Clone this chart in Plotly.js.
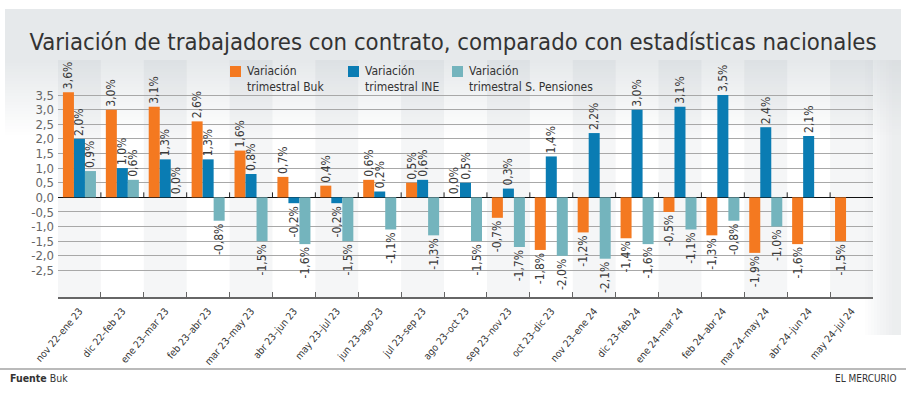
<!DOCTYPE html>
<html><head><meta charset="utf-8">
<script src="https://cdn.plot.ly/plotly-3.0.1.min.js"></script>
<style>html,body{margin:0;padding:0;background:#fff}#chart{width:906px;height:395px}</style>
</head><body><div id="chart"></div>
<script>
const categories = ["nov 22–ene 23","dic 22–feb 23","ene 23–mar 23","feb 23–abr 23","mar 23–may 23","abr 23–jun 23","may 23–jul 23","jun 23–ago 23","jul 23–sep 23","ago 23–oct 23","sep 23–nov 23","oct 23–dic 23","nov 23–ene 24","dic 23–feb 24","ene 24–mar 24","feb 24–abr 24","mar 24–may 24","abr 24–jun 24","may 24–jul 24"];
const buk = [3.6,3.0,3.1,2.6,1.6,0.7,0.4,0.6,0.5,0.0,-0.7,-1.8,-1.2,-1.4,-0.5,-1.3,-1.9,-1.6,-1.5];
const ine = [2.0,1.0,1.3,1.3,0.8,-0.2,-0.2,0.2,0.6,0.5,0.3,1.4,2.2,3.0,3.1,3.5,2.4,2.1,null];
const pensiones = [0.9,0.6,0.0,-0.8,-1.5,-1.6,-1.5,-1.1,-1.3,-1.5,-1.7,-2.0,-2.1,-1.6,-1.1,-0.8,-1.0,null,null];
const seriesNames = ["Variación<br>trimestral Buk","Variación<br>trimestral INE","Variación<br>trimestral S. Pensiones"];
const yTickVals = [-2.5,-2.0,-1.5,-1.0,-0.5,0.0,0.5,1.0,1.5,2.0,2.5,3.0,3.5];
const yTickText = ["-2,5","-2,0","-1,5","-1,0","-0,5","0,0","0,5","1,0","1,5","2,0","2,5","3,0","3,5"];
const titleText = "Variación de trabajadores con contrato, comparado con estadísticas nacionales";

const colors = ["#f47920","#0a7cb3","#74b4bd"];
const F = "'DejaVu Sans Condensed','Liberation Sans Narrow','Roboto Condensed',Roboto,sans-serif";
const W = 906, H = 395, L = 58, R = 873, T = 60, B = 297;
const px = x => (x - L) / (R - L);
const py = y => (B - y) / (B - T);
const fmt = v => v === null ? "" : v.toFixed(1).replace(".", ",") + "%";

const traces = [buk, ine, pensiones].map((vals, k) => ({
  type: "bar", x: categories, y: vals, name: seriesNames[k],
  marker: {color: colors[k], line: {width: 0}},
  text: vals.map(fmt), textposition: "outside", textangle: -90,
  constraintext: "none", cliponaxis: false,
  textfont: {family: F, size: 12, color: "#3a3a3a"},
  hoverinfo: "skip", showlegend: false
}));

const shapes = [];
function mix(a, b, t) {
  const pa = [1,3,5].map(i => parseInt(a.substr(i,2),16));
  const pb = [1,3,5].map(i => parseInt(b.substr(i,2),16));
  return "rgb(" + pa.map((v,i)=>Math.round(v+(pb[i]-v)*t)).join(",") + ")";
}
for (let y = 9; y < 140; y += 3) {
  const t = Math.min(1, Math.max(0, (y - 60) / 75));
  shapes.push({type:"rect", xref:"paper", yref:"paper", layer:"below",
    x0: px(5), x1: px(901), y0: py(y+3), y1: py(y),
    fillcolor: mix("#e6e9eb","#ffffff",t), line:{width:0}});
}
for (let x = 862; x < 901; x += 3) {
  const t = Math.min(1, Math.max(0, (x - 862) / 30));
  shapes.push({type:"rect", xref:"paper", yref:"paper", layer:"below",
    x0: px(x), x1: px(x+3), y0: py(335), y1: py(60),
    fillcolor: "rgba(200,205,210," + (0.35 * t).toFixed(3) + ")", line:{width:0}});
}
categories.forEach((c, i) => {
  if (i % 2 === 0) shapes.push({type:"rect", xref:"x", yref:"paper", layer:"below",
    x0: i - 0.5, x1: i + 0.5, y0: 0, y1: 1, fillcolor: "rgba(120,130,140,0.07)", line:{width:0}});
});
categories.forEach((c, i) => {
  if (i > 0) shapes.push({type:"line", xref:"x", yref:"y", ysizemode:"pixel", yanchor:0,
    x0: i - 0.5, x1: i - 0.5, y0: 0, y1: 5, line:{color:"#222", width:1}});
});
const legX = [230, 348, 452];
legX.forEach((x, k) => shapes.push({type:"rect", xref:"paper", yref:"paper",
  x0: px(x), x1: px(x+11), y0: py(77), y1: py(66), fillcolor: colors[k], line:{width:0}}));
shapes.push({type:"line", xref:"paper", yref:"paper", x0: px(0), x1: px(906), y0: py(369), y1: py(369),
  line:{color:"#777", width:1.2}});

const annotations = legX.map((x, k) => ({
  xref:"paper", yref:"paper", x: px(x+15), y: py(62), xanchor:"left", yanchor:"top",
  text: seriesNames[k], showarrow:false, align:"left",
  font:{family:F, size:12, color:"#333"}
}));
annotations.push({xref:"paper", yref:"paper", x: px(8), y: py(378), xanchor:"left", yanchor:"middle",
  text:"<b>Fuente</b> Buk", showarrow:false, font:{family:F, size:10.5, color:"#333"}});
annotations.push({xref:"paper", yref:"paper", x: px(899), y: py(378), xanchor:"right", yanchor:"middle",
  text:"EL MERCURIO", showarrow:false, font:{family:F, size:10, color:"#333"}});

const layout = {
  width: W, height: H,
  margin: {l: L, r: W - R, t: T, b: H - B, pad: 0},
  paper_bgcolor: "#ffffff", plot_bgcolor: "rgba(0,0,0,0)",
  title: {text: titleText, x: 0.5, xref: "container", xanchor: "center",
    y: 1 - 42/H, yref: "container", yanchor: "middle",
    font: {family: F, size: 23.7, color: "#333"}},
  barmode: "group", bargap: 0.23, bargroupgap: 0,
  showlegend: false,
  xaxis: {type: "category", tickangle: -50, tickfont: {family: F, size: 10, color: "#333"},
    showline: true, linecolor: "#666", linewidth: 1.5, ticks: "inside", ticklen: 5,
    tickcolor: "#666", tickson: "boundaries", showgrid: false, fixedrange: true,
    ticklabelstandoff: 3,
    range: [-0.5, categories.length - 0.5]},
  yaxis: {range: [-3.41, 4.70], tickvals: yTickVals, ticktext: yTickText,
    tickfont: {family: F, size: 13, color: "#666"}, showgrid: true, gridcolor: "#a8a8a8",
    gridwidth: 1, zeroline: true, zerolinecolor: "#111", zerolinewidth: 1.5,
    ticks: "", ticklabelstandoff: 3, fixedrange: true},
  shapes: shapes, annotations: annotations
};
Plotly.newPlot("chart", traces, layout, {displayModeBar: false, staticPlot: true});
</script></body></html>
